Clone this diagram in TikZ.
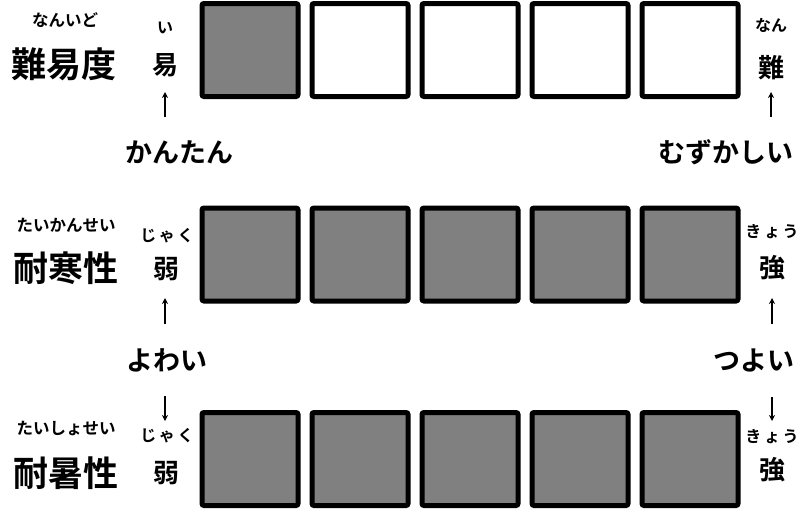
\documentclass[tikz,border=0pt]{standalone}
\usepackage{fontspec}
\newfontfamily\jp{Noto Sans CJK JP}[BoldFont={Noto Sans CJK JP Bold}]
\usetikzlibrary{arrows.meta}
\begin{document}
\begin{tikzpicture}[x=1pt,y=-1pt,
  cell/.style={draw=black,line width=5pt,rounded corners=2pt,minimum width=96pt,minimum height=93pt,inner sep=0pt},
  on/.style={cell,fill=gray50},
  off/.style={cell,fill=white},
  txt/.style={inner sep=0pt,font=\jp\bfseries},
  title/.style={txt,font=\jp\bfseries\fontsize{35}{35}\selectfont},
  rubyT/.style={txt,font=\jp\bfseries\fontsize{16.5}{16.5}\selectfont},
  side/.style={txt,font=\jp\bfseries\fontsize{26}{26}\selectfont},
  rubyS/.style={txt,font=\jp\bfseries\fontsize{16}{16}\selectfont},
  word/.style={txt,font=\jp\bfseries\fontsize{27}{27}\selectfont},
  arr/.style={line width=1.2pt,-{Stealth[length=6pt,width=6pt]}}]
\definecolor{gray50}{HTML}{808080}
\useasboundingbox (0,0) rectangle (810,509);
% row 1
\node[on]  (a1) at (250,50) {};
\node[off] (a2) at (360,50) {};
\node[off] (a3) at (470,50) {};
\node[off] (a4) at (580,50) {};
\node[off] (a5) at (690,50) {};
% row 2
\node[on] (b1) at (250,254.5) {};
\node[on] (b2) at (360,254.5) {};
\node[on] (b3) at (470,254.5) {};
\node[on] (b4) at (580,254.5) {};
\node[on] (b5) at (690,254.5) {};
% row 3
\node[on] (c1) at (250,459) {};
\node[on] (c2) at (360,459) {};
\node[on] (c3) at (470,459) {};
\node[on] (c4) at (580,459) {};
\node[on] (c5) at (690,459) {};
% titles
\node[rubyT] (t1r) at (65,20) {なんいど};
\node[title] (t1) at (64,64) {難易度};
\node[rubyT] (t2r) at (66,225) {たいかんせい};
\node[title] (t2) at (66,268) {耐寒性};
\node[rubyT] (t3r) at (66,428) {たいしょせい};
\node[title] (t3) at (66,473) {耐暑性};
% left side
\node[rubyS] (l1r) at (165,28) {い};
\node[side] (l1) at (165,65) {易};
\node[rubyS] (l2r) at (167,236) {じ\,ゃ\,く};
\node[side] (l2) at (166,269) {弱};
\node[rubyS] (l3r) at (167,436) {じ\,ゃ\,く};
\node[side] (l3) at (166,473) {弱};
% right side
\node[rubyS] (r1r) at (771,25) {なん};
\node[side] (r1) at (771,68) {難};
\node[rubyS] (r2r) at (772,232) {き\,ょ\,う};
\node[side] (r2) at (772,268) {強};
\node[rubyS] (r3r) at (772,437) {き\,ょ\,う};
\node[side] (r3) at (772,470) {強};
% words
\node[word] (w1) at (179,152) {かんたん};
\node[word] (w2) at (726,152) {むずかしい};
\node[word] (w3) at (167,360) {よわい};
\node[word] (w4) at (754,360) {つよい};
% arrows
\coordinate (p1a) at (165,117); \coordinate (p1b) at (165,92);
\coordinate (p2a) at (771,117); \coordinate (p2b) at (771,92);
\coordinate (p3a) at (165,324); \coordinate (p3b) at (165,298);
\coordinate (p4a) at (772,324); \coordinate (p4b) at (772,298);
\coordinate (p5a) at (165,396); \coordinate (p5b) at (165,421);
\coordinate (p6a) at (772,397); \coordinate (p6b) at (772,421);
\draw[arr] (p1a) -- (p1b);
\draw[arr] (p2a) -- (p2b);
\draw[arr] (p3a) -- (p3b);
\draw[arr] (p4a) -- (p4b);
\draw[arr] (p5a) -- (p5b);
\draw[arr] (p6a) -- (p6b);
\end{tikzpicture}
\end{document}
